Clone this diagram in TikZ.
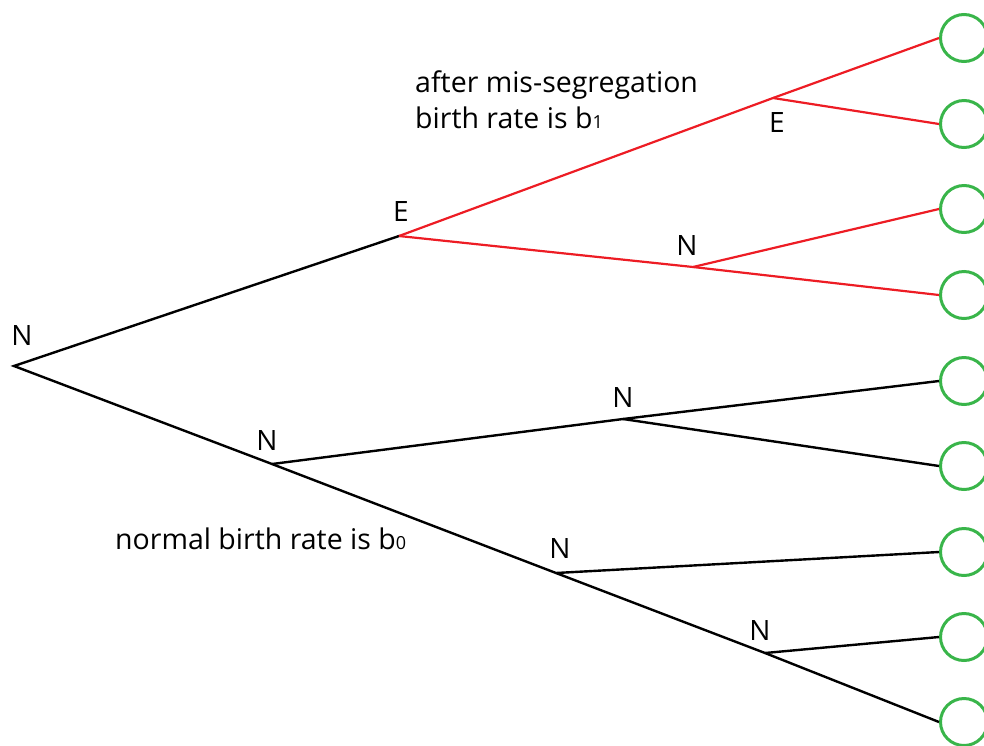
\documentclass[tikz,border=0pt]{standalone}
\usepackage{fontspec}
\setmainfont{Open Sans}
\begin{document}
\begin{tikzpicture}[x=1pt,y=-1pt,
  blk/.style={line width=2.4pt,black},
  redl/.style={line width=2.2pt,draw=red1},
  leaf/.style={circle,draw=green1,line width=3pt,minimum size=47pt,inner sep=0pt},
  lbl/.style={font=\fontsize{28}{32}\selectfont,inner sep=0pt},
  txt/.style={font=\fontsize{28.5}{34}\selectfont,inner sep=0pt,anchor=base west}]
\definecolor{red1}{HTML}{ED1C24}
\definecolor{green1}{HTML}{39B54A}
\useasboundingbox (0,0) rectangle (984,745);
% leaves
\node[leaf] (l1) at (964,38) {};
\node[leaf] (l2) at (964,124) {};
\node[leaf] (l3) at (964,209) {};
\node[leaf] (l4) at (964,295) {};
\node[leaf] (l5) at (964,381) {};
\node[leaf] (l6) at (964,466) {};
\node[leaf] (l7) at (964,552) {};
\node[leaf] (l8) at (964,637) {};
\node[leaf] (l9) at (964,722) {};
% branch points
\coordinate (root) at (14,366);
\coordinate (E) at (399,236);
\coordinate (rE) at (773,98);
\coordinate (rN) at (693,267);
\coordinate (n1) at (272,464);
\coordinate (n2) at (623,419);
\coordinate (n3) at (556,573);
\coordinate (n4) at (765,653);
% edges
\draw[blk] (E) -- (root) -- (n1) -- (n3) -- (n4) -- (l9.west);
\draw[blk] (n1) -- (n2) -- (l5.west);
\draw[blk] (n2) -- (l6.west);
\draw[blk] (n3) -- (l7.west);
\draw[blk] (n4) -- (l8.west);
\draw[redl] (E) -- (rE) -- (l1.west);
\draw[redl] (rE) -- (l2.west);
\draw[redl] (E) -- (rN) -- (l4.west);
\draw[redl] (rN) -- (l3.west);
% labels
\node[lbl] (tR) at (22,335) {N};
\node[lbl] (tE) at (401,211) {E};
\node[lbl] (trE) at (777,123) {E};
\node[lbl] (trN) at (687,245) {N};
\node[lbl] (t1) at (267,440) {N};
\node[lbl] (t2) at (623,397) {N};
\node[lbl] (t3) at (560,548) {N};
\node[lbl] (t4) at (760,630) {N};
\node[txt] (after) at (415,92) {after mis-segregation};
\node[txt] (birth) at (415,128) {birth rate is b{\fontsize{18}{20}\selectfont 1}};
\node[txt] (normal) at (115,549) {normal birth rate is b{\fontsize{18}{20}\selectfont 0}};
\end{tikzpicture}
\end{document}
